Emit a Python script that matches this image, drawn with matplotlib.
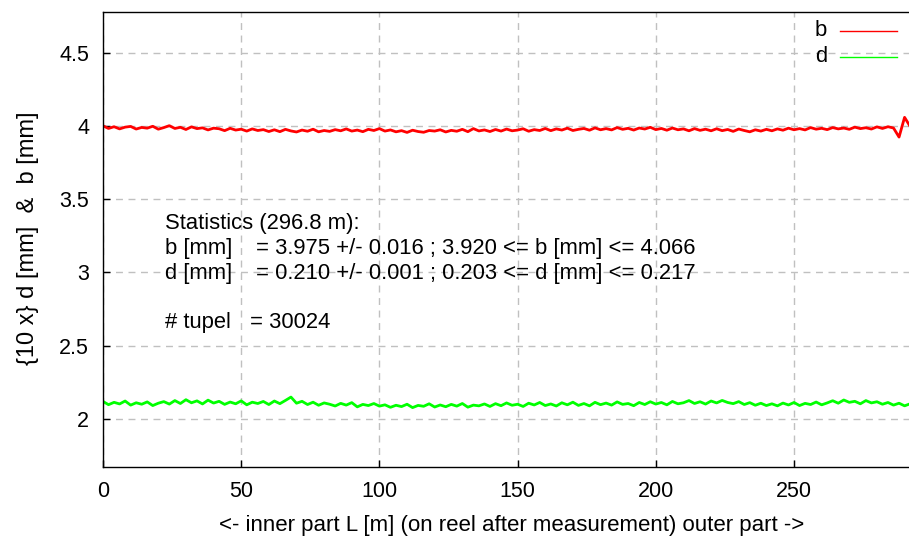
import numpy as np
import matplotlib
matplotlib.use("Agg")
import matplotlib.pyplot as plt

plt.rcParams['font.family'] = ['Liberation Sans', 'DejaVu Sans']
plt.rcParams['font.size'] = 15.8

L_STEP = 2.0

b_mm = [
    4.002, 3.984, 3.996, 3.981, 3.993, 3.998, 3.980, 3.991, 3.986, 3.999, 3.979,
    3.990, 4.003, 3.984, 3.992, 3.977, 3.995, 3.983, 3.988, 3.974, 3.986,
    3.982, 3.969, 3.985, 3.973, 3.979, 3.966, 3.981, 3.970, 3.976, 3.963,
    3.975, 3.962, 3.978, 3.967, 3.960, 3.973, 3.965, 3.979, 3.961, 3.970,
    3.964, 3.976, 3.968, 3.981, 3.966, 3.973, 3.962, 3.978, 3.970, 3.983,
    3.966, 3.974, 3.961, 3.969, 3.957, 3.972, 3.963, 3.958, 3.970, 3.966,
    3.975, 3.960, 3.971, 3.965, 3.978, 3.962, 3.983, 3.967, 3.974, 3.963,
    3.977, 3.966, 3.980, 3.968, 3.973, 3.982, 3.965, 3.976, 3.970, 3.984,
    3.969, 3.981, 3.973, 3.986, 3.970, 3.978, 3.984, 3.972, 3.988, 3.975,
    3.983, 3.974, 3.990, 3.978, 3.985, 3.973, 3.987, 3.980, 3.992, 3.976,
    3.984, 3.972, 3.987, 3.975, 3.981, 3.968, 3.983, 3.971, 3.979, 3.968,
    3.982, 3.969, 3.977, 3.964, 3.980, 3.970, 3.961, 3.975, 3.966, 3.978,
    3.968, 3.981, 3.972, 3.986, 3.975, 3.983, 3.974, 3.990, 3.979, 3.985,
    3.976, 3.990, 3.981, 3.987, 3.978, 3.993, 3.983, 3.989, 3.980, 3.995,
    3.984, 3.996, 3.987, 3.925, 4.060, 3.998, 3.990, 4.002,
]

# 10 x d [mm]
d_x10 = [
    2.118, 2.096, 2.112, 2.101, 2.121, 2.093, 2.109, 2.099, 2.115, 2.090, 2.106,
    2.117, 2.100, 2.124, 2.104, 2.130, 2.109, 2.122, 2.101, 2.127, 2.107,
    2.119, 2.098, 2.114, 2.102, 2.122, 2.095, 2.113, 2.104, 2.118, 2.097,
    2.121, 2.103, 2.125, 2.148, 2.106, 2.119, 2.097, 2.113, 2.092, 2.108,
    2.099, 2.087, 2.105, 2.093, 2.110, 2.081, 2.098, 2.090, 2.104, 2.086,
    2.095, 2.078, 2.092, 2.083, 2.099, 2.076, 2.091, 2.085, 2.102, 2.080,
    2.094, 2.082, 2.098, 2.086, 2.104, 2.079, 2.093, 2.088, 2.101, 2.084,
    2.103, 2.089, 2.108, 2.092, 2.099, 2.084, 2.106, 2.094, 2.111, 2.090,
    2.101, 2.087, 2.109, 2.095, 2.113, 2.091, 2.104, 2.088, 2.112, 2.096,
    2.107, 2.093, 2.115, 2.098, 2.104, 2.089, 2.111, 2.097, 2.116, 2.100,
    2.111, 2.095, 2.118, 2.102, 2.109, 2.124, 2.104, 2.116, 2.100, 2.121,
    2.108, 2.125, 2.111, 2.103, 2.117, 2.097, 2.110, 2.092, 2.106, 2.090,
    2.102, 2.088, 2.107, 2.094, 2.111, 2.090, 2.105, 2.097, 2.114, 2.095,
    2.108, 2.123, 2.106, 2.128, 2.112, 2.119, 2.102, 2.124, 2.108, 2.116,
    2.099, 2.111, 2.093, 2.106, 2.088, 2.102, 2.095, 2.107,
]

x_ticks = [0, 50, 100, 150, 200, 250]
y_ticks = [2, 2.5, 3, 3.5, 4, 4.5]
y_tick_labels = ['2', '2.5', '3', '3.5', '4', '4.5']

stats_lines = [
    ('Statistics (296.8 m):', ''),
    ('b [mm]', '= 3.975 +/- 0.016 ; 3.920 <= b [mm] <= 4.066'),
    ('d [mm]', '= 0.210 +/- 0.001 ; 0.203 <= d [mm] <= 0.217'),
    ('# tupel', '= 30024'),
]

W, H = 909, 544
fig = plt.figure(figsize=(W / 100, H / 100), dpi=100)

# plot frame in pixels: left 103, right 909 (cropped), top 12, bottom 467
ax = fig.add_axes([103 / W, (H - 467) / H, (W - 103) / W, (467 - 12) / H])

L = np.arange(len(b_mm)) * L_STEP
ax.plot(L, b_mm, color='#ff0000', lw=2.0)
ax.plot(L, d_x10, color='#00ff00', lw=2.0)

ax.set_xlim(0, 291.6)
ax.set_ylim(1.67, 4.78)
ax.set_xticks(x_ticks)
ax.set_yticks(y_ticks)
ax.set_yticklabels(y_tick_labels)
ax.tick_params(direction='in', length=5, width=1, pad=10, labelsize=15.5)
ax.grid(True, color='#c0c0c0', lw=1.0, linestyle=(0, (5, 4)))
ax.set_axisbelow(True)
ax.spines['right'].set_visible(False)
for s in ['left', 'bottom', 'top']:
    ax.spines[s].set_color('black')
    ax.spines[s].set_linewidth(1.0)

# statistics block
ys = [229.5, 254, 279, 328]
xs2 = [None, 256, 256, 250]
for (a, b), y, x2 in zip(stats_lines, ys, xs2):
    fig.text(165 / W, 1 - y / H, a, ha='left', va='baseline')
    if b:
        fig.text(x2 / W, 1 - y / H, b, ha='left', va='baseline')

# legend (gnuplot style, top right)
for lab, col, y in [('b', '#ff0000', 31), ('d', '#00ff00', 57)]:
    fig.text(827 / W, 1 - y / H, lab, ha='right', va='center')
    fig.add_artist(plt.Line2D([840 / W, 897 / W], [1 - y / H, 1 - y / H],
                              color=col, lw=1.0, transform=fig.transFigure))

fig.text(512 / W, 1 - 525 / H,
         '<- inner part L [m] (on reel after measurement) outer part ->',
         ha='center', va='center', fontsize=16)
fig.text(28 / W, 1 - 238 / H, '{10 x} d [mm]  &  b [mm]',
         rotation=90, ha='center', va='center', fontsize=17)

fig.savefig('out.png', dpi=100)
